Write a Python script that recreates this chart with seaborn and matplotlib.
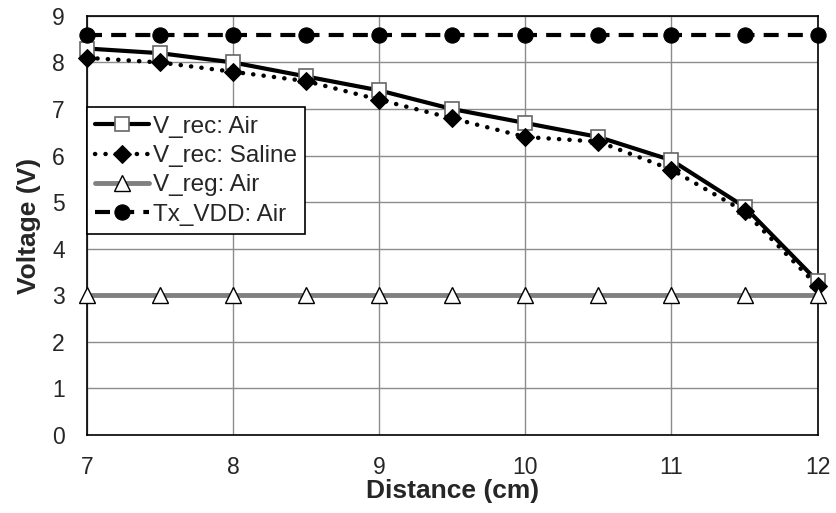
import matplotlib
matplotlib.use("Agg")
import matplotlib.pyplot as plt
import seaborn as sns
import pandas as pd

distance = [7, 7.5, 8, 8.5, 9, 9.5, 10, 10.5, 11, 11.5, 12]
v_rec_air = [8.3, 8.2, 8.0, 7.7, 7.4, 7.0, 6.7, 6.4, 5.9, 4.9, 3.3]
v_rec_saline = [8.1, 8.0, 7.8, 7.6, 7.2, 6.8, 6.4, 6.3, 5.7, 4.8, 3.2]
v_reg_air = [3.0] * 11
tx_vdd_air = [8.6] * 11

labels = ["V_rec: Air", "V_rec: Saline", "V_reg: Air", "Tx_VDD: Air"]
x_ticks = [7, 8, 9, 10, 11, 12]
y_ticks = list(range(0, 10))

sns.set_style("white")
plt.rcParams["font.family"] = ["Liberation Sans", "DejaVu Sans"]

fig = plt.figure(figsize=(8.36, 5.13), dpi=100)
ax = fig.add_axes([0.104, 0.152, 0.874, 0.817])

styles = [
    dict(color="black", linestyle="-", linewidth=3, marker="s", markersize=10,
         markerfacecolor="white", markeredgecolor="#666666", markeredgewidth=1.2),
    dict(color="black", linestyle=(0, (0.05, 2.3)), linewidth=3.2, dash_capstyle="round",
         marker="D", markersize=9, markerfacecolor="black", markeredgecolor="black"),
    dict(color="#808080", linestyle="-", linewidth=3.5, marker="^", markersize=12,
         markerfacecolor="white", markeredgecolor="black", markeredgewidth=1.0),
    dict(color="black", linestyle=(0, (3.6, 2.2)), linewidth=3, marker="o", markersize=11,
         markerfacecolor="black", markeredgecolor="black"),
]
series = [v_rec_air, v_rec_saline, v_reg_air, tx_vdd_air]

for vals, lab, st in zip(series, labels, styles):
    df = pd.DataFrame({"Distance": distance, "Voltage": vals})
    sns.lineplot(data=df, x="Distance", y="Voltage", ax=ax, label=lab,
                 clip_on=False, zorder=3, **st)

ax.set_xlim(7, 12)
ax.set_ylim(0, 9)
ax.set_xticks(x_ticks)
ax.set_yticks(y_ticks)
ax.tick_params(axis="x", labelsize=16.5, length=0, pad=15)
ax.tick_params(axis="y", labelsize=16.5, length=0, pad=16)
ax.grid(True, color="#8c8c8c", linewidth=1.0)
ax.set_axisbelow(True)
for s in ax.spines.values():
    s.set_color("black")
    s.set_linewidth(1.2)

ax.set_xlabel("Distance (cm)", fontsize=19, fontweight="bold", labelpad=0)
ax.set_ylabel("Voltage (V)", fontsize=19, fontweight="bold", labelpad=8)

leg = ax.legend(loc="upper left", bbox_to_anchor=(0.0, 0.782), fontsize=17.5,
                frameon=True, fancybox=False, framealpha=1, edgecolor="black",
                borderpad=0.35, labelspacing=0.3, handlelength=2.2,
                handletextpad=0.15, borderaxespad=0)
leg.get_frame().set_linewidth(1.2)
leg.set_zorder(5)

fig.savefig("out.png", dpi=100)
